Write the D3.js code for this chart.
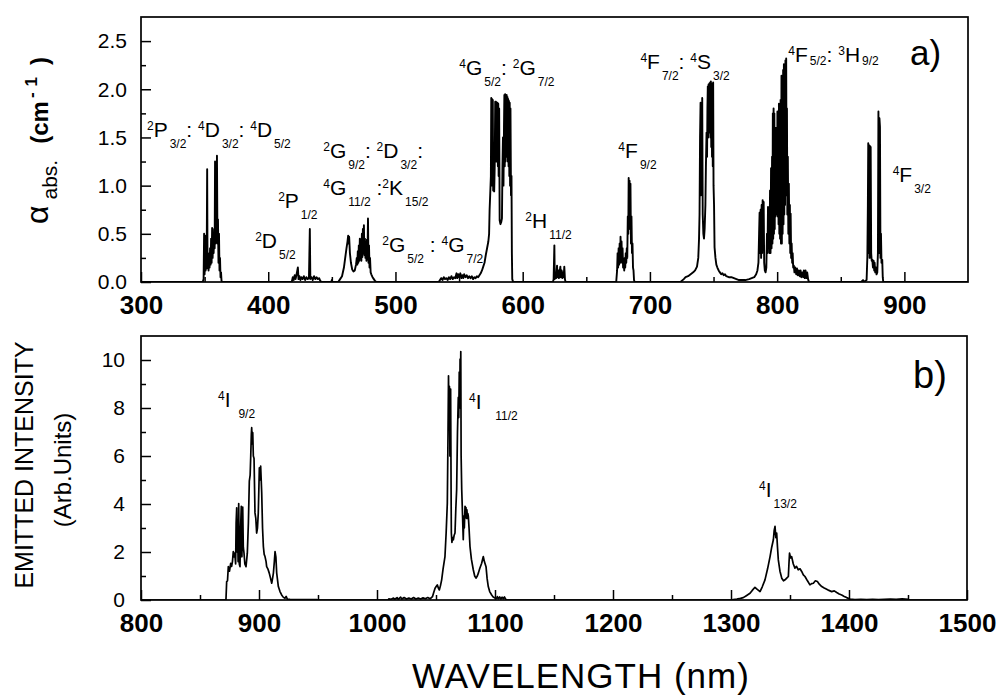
<!DOCTYPE html>
<html>
<head>
<meta charset="utf-8">
<script src="https://cdn.jsdelivr.net/npm/d3@7"></script>
<style>
  body { margin: 0; background: #fff; }
  text { font-family: "Liberation Sans", Arial, Helvetica, sans-serif; fill: #000; }
</style>
</head>
<body>
<svg id="chart" width="1000" height="697"></svg>
<script>
// Absorption spectrum: [wavelength (nm), absorption coefficient (cm-1)]
const absorption = [
  [300,0],[348.5,0],
  [349.2,0.03],[349.6,0.5],[350,0.08],[350.4,0.48],[350.8,0.12],[351.2,0.4],[351.6,0.14],[352,1.17],[352.3,0.16],
  [352.7,0.3],[353.1,0.12],[353.5,0.28],[353.9,0.15],[354.3,0.35],[354.7,0.18],[355.1,0.45],[355.5,0.2],[355.9,0.56],
  [356.3,0.25],[356.7,0.5],[357.1,0.3],[357.5,0.55],[357.9,0.35],[358.2,1.25],[358.6,0.4],[359,1.22],[359.3,0.45],
  [359.7,1.31],[360.1,0.4],[360.5,0.65],[360.9,0.2],[361.3,0.5],[361.7,0.12],[362.1,0.25],[362.5,0.05],[362.9,0.1],
  [363.3,0.01],[364,0],[418.5,0],
  [419.3,0.05],[420,0.02],[420.8,0.07],[421.5,0.03],[422.3,0.08],[423.3,0.15],[423.8,0.03],[424.5,0.06],[425.3,0.02],
  [426,0.05],[427,0.03],[428,0.06],[429,0.02],[430,0.05],[431,0.03],[432,0.04],[432.7,0.55],[433.1,0.03],[434,0.05],
  [435,0.02],[436,0.06],[437,0.03],[438,0.05],[439,0.03],[440,0.04],[441,0.01],[442,0],
  [449.5,0],[450,0.02],[450.5,0],[455,0],
  [456.5,0.03],[458,0.06],[459.5,0.15],[460.5,0.25],[461.5,0.35],[462.3,0.42],[462.8,0.48],[463.2,0.4],[463.6,0.47],
  [464.2,0.3],[465,0.2],[466,0.13],[467,0.11],[468,0.12],[469,0.18],[469.6,0.25],[470,0.18],[470.4,0.32],[470.8,0.2],
  [471.2,0.38],[471.6,0.22],[472,0.45],[472.4,0.25],[472.8,0.42],[473.2,0.22],[473.6,0.5],[474,0.26],[474.4,0.55],
  [474.8,0.3],[475.2,0.59],[475.6,0.28],[476,0.45],[476.4,0.25],[476.8,0.4],[477.2,0.22],[477.6,0.44],[478,0.24],
  [478.4,0.66],[478.8,0.2],[479.2,0.38],[479.6,0.15],[480,0.25],[480.5,0.1],[481,0.08],[482,0.05],[483,0.03],
  [484,0.01],[485,0],[534,0],
  [535,0.02],[536,0.04],[537,0.02],[538,0.05],[539,0.03],[540,0.04],[541,0.02],[542,0.05],[543,0.03],[544,0.06],
  [545,0.03],[546,0.05],[547,0.04],[548,0.09],[548.5,0.04],[549.3,0.08],[550,0.05],[551,0.09],[551.7,0.04],
  [552.5,0.07],[553.3,0.04],[554,0.08],[555,0.05],[556,0.07],[557,0.04],[558,0.06],[559,0.04],[560,0.06],[561,0.03],
  [562,0.05],[563,0.04],[564,0.06],[565,0.05],[566,0.07],[567,0.09],[568,0.12],
  [569,0.16],[570,0.2],[571,0.28],[572,0.35],[573,0.42],[573.6,0.5],[574,0.75],[574.5,0.92],[575,1.1],[575.3,1.91],
  [575.6,1.0],[575.9,1.9],[576.2,1.05],[576.5,1.89],[576.8,0.95],[577.2,0.96],[577.6,0.94],[578,1.2],[578.4,1.87],
  [578.7,1.3],[579,1.87],[579.3,1.25],[579.6,1.86],[579.9,1.3],[580.2,1.86],[580.5,1.2],[580.8,1.85],[581.1,1.1],
  [581.5,1.8],[581.9,0.64],[582.5,0.6],[583.1,0.62],[583.7,0.66],[584.1,1.2],[584.5,1.5],[584.9,1.0],[585.3,1.6],
  [585.6,1.94],[585.9,1.2],[586.2,1.95],[586.5,1.25],[586.8,1.93],[587.1,1.3],[587.4,1.94],[587.7,1.3],[588,1.92],
  [588.3,1.25],[588.6,1.9],[588.9,1.2],[589.2,1.88],[589.5,1.1],[589.8,1.86],[590.1,1.0],[590.4,1.8],[590.8,0.9],
  [591.2,1.1],[591.5,0.3],[591.8,0.03],[592.5,0],
  [623.8,0],[624.3,0.03],[624.9,0.38],[625.2,0.03],[625.7,0.08],[626.3,0.04],[627,0.17],[627.4,0.05],[628,0.12],
  [628.5,0.04],[629,0.1],[629.6,0.16],[630,0.05],[630.6,0.12],[631.2,0.04],[631.7,0.1],[632.2,0.05],[632.7,0.16],
  [633.2,0.03],[633.7,0],
  [673.5,0],[674.2,0.12],[674.6,0.3],[675,0.15],[675.4,0.35],[675.8,0.18],[676.2,0.4],[676.6,0.2],[676.9,0.47],
  [677.3,0.22],[677.7,0.42],[678.1,0.2],[678.5,0.35],[678.9,0.15],[679.4,0.23],[679.8,0.12],[680.2,0.25],[680.6,0.15],
  [681,0.3],[681.4,0.2],[681.8,0.35],[682.2,0.25],[682.6,0.68],[683,0.5],[683.3,1.08],[683.7,0.55],[684,1.05],
  [684.4,0.6],[684.7,1.02],[685.1,0.4],[685.5,0.68],[685.9,0.3],[686.3,0.4],[686.7,0.15],[687.1,0.12],[687.5,0.02],
  [688,0],[724,0],
  [726.6,0.03],[728,0.05],[730,0.06],[732,0.08],[734,0.1],[735.5,0.12],[737,0.16],[738,0.25],[738.6,0.45],[739,0.7],
  [739.4,1.5],[739.8,1.86],[740.1,0.9],[740.5,1.75],[740.8,1.1],[741.1,1.91],[741.5,0.7],[742,0.5],[742.5,0.45],
  [743,0.55],[743.6,0.8],[744,1.2],[744.5,1.55],[744.9,1.3],[745.2,1.8],[745.5,2.03],[745.8,1.5],[746.1,2.05],
  [746.4,1.6],[746.7,2.06],[747,1.55],[747.3,2.07],[747.6,1.5],[747.9,2.08],[748.2,1.4],[748.5,2.05],[748.8,1.3],
  [749.1,2.06],[749.4,1.2],[749.7,2.07],[750,1.0],[750.4,0.8],[750.8,0.36],[751.5,0.25],[752.2,0.18],[753,0.15],
  [754,0.12],[755,0.1],[756,0.08],[757,0.09],[758,0.07],[759,0.08],[760,0.06],[762,0.05],[764,0.05],[766,0.04],
  [768,0.03],[770,0.02],[772,0.02],[775,0.02],[778,0.03],[780,0.04],[782,0.05],
  [783.5,0.08],[784.5,0.12],[785.3,0.2],[785.8,0.5],[786.2,0.72],[786.6,0.3],[787,0.75],[787.4,0.25],[787.8,0.8],
  [788.2,0.3],[788.6,0.85],[789,0.4],[789.4,0.83],[789.8,0.2],[790.3,0.12],[790.9,0.1],[791.5,0.15],[792,0.5],
  [792.4,0.3],[792.8,0.78],[793.2,0.35],[793.6,0.7],[794,0.3],[794.4,0.95],[794.8,0.3],[795.2,1.18],[795.6,0.35],
  [796,1.3],[796.3,0.4],[796.6,1.75],[796.9,0.45],[797.2,1.8],[797.5,0.5],[797.8,1.75],[798.1,0.55],[798.4,1.6],
  [798.7,0.68],[799,1.51],[799.3,0.7],[799.6,1.6],[799.9,0.7],[800.2,1.77],[800.5,0.68],[800.8,1.7],[801.1,0.6],
  [801.4,1.85],[801.7,0.5],[802,1.8],[802.3,0.45],[802.7,1.89],[803,0.4],[803.4,2.14],[803.7,0.4],[804,2.03],
  [804.3,0.5],[804.7,2.2],[805,0.6],[805.3,2.26],[805.6,0.7],[805.9,2.25],[806.2,0.8],[806.5,2.3],[806.8,0.9],
  [807.1,2.32],[807.4,0.9],[807.7,1.8],[808,0.7],[808.4,1.3],[808.8,0.5],[809.2,1.02],[809.6,0.4],[810,0.8],
  [810.3,0.3],[810.6,0.71],[811,0.25],[811.4,0.4],[811.8,0.2],[812.2,0.3],[812.6,0.15],[813.1,0.17],[813.6,0.1],
  [814.2,0.15],[815,0.08],[815.6,0.14],[816.3,0.07],[817,0.12],[817.7,0.06],[818.4,0.12],[819,0.05],[819.7,0.1],
  [820.4,0.05],[821,0.12],[821.7,0.04],[822.3,0.12],[823,0.04],[823.6,0.1],[824.3,0.03],[825,0],
  [866,0],[867.5,0.02],[868,0],[870.3,0.02],[870.9,0.26],[871.3,0.8],[871.6,1.44],[871.9,0.3],[872.3,1.42],
  [872.7,0.25],[873.1,1.41],[873.5,1.4],[873.9,0.3],[874.3,0.22],[874.8,0.23],[875.3,0.15],[875.8,0.22],[876.3,0.12],
  [876.6,0.2],[877.1,0.1],[877.6,0.15],[878.1,0.08],[878.7,0.1],[879.2,0.3],[879.6,1.77],[880,0.3],[880.4,1.7],
  [880.8,1.61],[881.2,0.25],[881.6,0.5],[882,0.2],[882.6,0.23],[883,0.05],[883.4,0],[950,0]
];

// Emission spectrum: [wavelength (nm), intensity (arb. units)]
const emission = [
  [800,0],[872,0],[872.6,0.77],[873.3,0.8],[874,1.39],[875,1.2],[876,1.53],[876.8,1.4],[877.5,1.6],[878.2,2.02],
  [879,1.8],[879.5,1.95],[880.2,1.5],[880.6,3.2],[881.1,3.84],[881.5,2.0],[881.9,2.8],[882.3,1.6],[882.8,4.02],
  [883.3,1.5],[883.9,1.39],[884.4,3.0],[885,3.9],[885.5,1.8],[886.2,3.87],[886.7,2.2],[887.3,1.95],[888,1.5],
  [889,1.39],[890.1,1.95],[891,3.2],[891.8,4.95],[892.5,5.2],[893,6.0],[893.5,6.9],[893.8,7.18],[894.3,6.5],
  [894.7,6.97],[895.2,6.0],[895.8,5.9],[896.6,3.63],[897.3,3.4],[898,2.79],[898.7,3.0],[899.4,3.63],[900.3,5.51],
  [900.8,5.0],[901.4,5.58],[902.3,4.46],[903,3.0],[903.7,2.23],[904.4,1.9],[905.1,1.81],[906,1.6],[906.5,1.39],
  [907.5,1.3],[908.7,1.12],[909.8,0.9],[910.8,0.7],[911.5,0.9],[912.2,1.12],[913,1.6],[913.6,2.02],[914.3,1.8],
  [915,1.12],[916.4,0.56],[917.8,0.35],[919.2,0.21],[920.5,0.12],[922,0.07],[923,0.15],[924,0.04],[926.3,0.03],
  [930,0.02],[940,0.02],[949,0.02],[949.5,0],
  [1009.5,0],[1010,0.05],[1012,0.03],[1014,0.08],[1015,0.03],[1017,0.1],[1018,0.03],[1020,0.12],[1021,0.04],
  [1023,0.1],[1025,0.04],[1027,0.08],[1029,0.04],[1031,0.1],[1033,0.04],[1035,0.08],[1037,0.04],[1039,0.09],
  [1041,0.05],[1043,0.1],[1045,0.05],[1047,0.14],[1048,0.3],[1049.2,0.49],[1050,0.55],[1051.1,0.63],[1052,0.5],
  [1052.8,0.42],[1053.8,0.6],[1054.8,0.84],[1056,1.3],[1057.6,1.81],[1058.6,2.8],[1059.6,4.04],[1060.2,7.0],
  [1060.6,9.34],[1061,7.5],[1061.4,8.9],[1061.8,6.0],[1062.4,8.79],[1062.8,4.5],[1063,2.79],[1063.5,2.4],[1064,2.6],
  [1064.7,2.51],[1065.4,2.7],[1066.1,2.79],[1066.8,3.8],[1067.5,4.6],[1068.2,7.0],[1068.9,8.44],[1069.3,7.6],
  [1069.7,9.5],[1070.1,8.0],[1070.4,10.04],[1070.7,8.5],[1071,10.35],[1071.3,6.0],[1071.8,4.6],[1072.5,3.5],
  [1073.1,2.51],[1073.6,3.5],[1074,3.0],[1074.6,3.9],[1075,3.5],[1075.4,3.85],[1075.8,3.4],[1076.2,3.76],
  [1076.6,3.4],[1077,3.6],[1077.4,3.49],[1078,3.0],[1078.8,2.23],[1080,1.7],[1081.6,1.26],[1082.8,1.0],[1083.9,0.91],
  [1085,1.0],[1085.9,1.12],[1087,1.3],[1088.7,1.53],[1089.5,1.7],[1090.1,1.81],[1091,1.6],[1092.4,1.39],[1093.3,0.9],
  [1094.3,0.56],[1095.5,0.35],[1097.2,0.21],[1098.5,0.12],[1100,0.08],[1101.4,0.07],[1102,0.14],[1103,0.05],
  [1104,0.13],[1105,0.04],[1106,0.12],[1107,0.05],[1108,0.13],[1109,0.04],[1110,0],
  [1299.7,0],[1302,0.02],[1305,0.04],[1308,0.07],[1310.4,0.1],[1313,0.18],[1316.1,0.28],[1318,0.4],[1320.3,0.53],
  [1322,0.45],[1324.6,0.35],[1326.5,0.55],[1328.8,0.84],[1331,1.3],[1333.1,1.81],[1334.5,2.2],[1335.9,2.51],
  [1336.6,2.9],[1337.3,3.07],[1338,2.6],[1338.7,2.79],[1339.4,2.2],[1340.1,1.67],[1341.5,1.2],[1343,0.91],
  [1344.5,0.8],[1345.8,0.84],[1347,0.9],[1348.6,0.98],[1349.1,1.5],[1349.6,1.95],[1350.5,1.75],[1351.4,1.81],
  [1352.8,1.5],[1354.2,1.33],[1355.5,1.4],[1357,1.26],[1358.5,1.3],[1359.9,1.19],[1361.3,1.05],[1362.7,0.98],
  [1364.8,0.8],[1366.9,0.63],[1368.3,0.68],[1369.8,0.7],[1371.5,0.8],[1373.2,0.77],[1375,0.65],[1376.9,0.56],
  [1379,0.5],[1381.1,0.45],[1383,0.4],[1385.3,0.35],[1387.5,0.38],[1389.6,0.31],[1391.7,0.25],[1393.8,0.21],
  [1396,0.15],[1398,0.1],[1400.8,0.04],[1405,0.02],[1410,0.03],[1415,0.02],[1420,0.03],[1425,0.02],[1430,0.03],
  [1435,0.04],[1440,0.03],[1445,0.05],[1450.3,0.03],[1450.6,0],[1500,0]
];

// Axis ticks
const absXTicks = [300, 400, 500, 600, 700, 800, 900];
const absXMinor = [350, 450, 550, 650, 750, 850];
const absYTicks = [0, 0.5, 1.0, 1.5, 2.0, 2.5];
const absYMinor = [0.25, 0.75, 1.25, 1.75, 2.25];
const emXTicks = [800, 900, 1000, 1100, 1200, 1300, 1400, 1500];
const emXMinor = [850, 950, 1050, 1150, 1250, 1350, 1450];
const emYTicks = [0, 2, 4, 6, 8, 10];
const emYMinor = [1, 3, 5, 7, 9];

// Term labels: ^x superscript, _{..} subscript, ~{..} raised subscript
const absLevels = [
  { at: [304.7, 1.507], text: "^2P_{3/2}: ^4D_{3/2}: ^4D_{5/2}" },
  { at: [389.7, 0.351], text: "^2D_{5/2}" },
  { at: [407.8, 0.768], text: "^2P_{1/2}" },
  { at: [443.2, 1.289], text: "^2G_{9/2}: ^2D_{3/2}:" },
  { at: [443.2, 0.903], text: "^4G_{11/2} :^2K_{15/2}" },
  { at: [489.6, 0.309], text: "^2G_{5/2} : ^4G_{7/2}" },
  { at: [550.2, 2.153], text: "^4G_{5/2}: ^2G_{7/2}" },
  { at: [602.1, 0.559], text: "^2H_{11/2}" },
  { at: [675.2, 1.289], text: "^4F_{9/2}" },
  { at: [692.5, 2.215], text: "^4F_{7/2}: ^4S_{3/2}" },
  { at: [808.8, 2.288], text: "^4F~{5/2}: ^3H~{9/2}" },
  { at: [890.8, 1.039], text: "^4F_{3/2}" }
];
const emLevels = [
  { at: [865.3, 8.03], text: "^4I _{9/2}" },
  { at: [1078.0, 7.95], text: "^4I  _{11/2}" },
  { at: [1323.7, 4.31], text: "^4I_{13/2}" }
];

const svg = d3.select("#chart");

const panels = [
  { key: "a", data: absorption, xDomain: [300, 950], yDomain: [0, 2.75], left: 141, right: 968, top: 17, bottom: 282,
    xTicks: absXTicks, xMinor: absXMinor, yTicks: absYTicks, yMinor: absYMinor, yFormat: d3.format(".1f"),
    levels: absLevels, tag: "a)", tagPos: [910, 65], tagSize: 35, yPad: 14, stroke: 1.9 },
  { key: "b", data: emission, xDomain: [800, 1500], yDomain: [0, 11], left: 141, right: 967, top: 336, bottom: 600,
    xTicks: emXTicks, xMinor: emXMinor, yTicks: emYTicks, yMinor: emYMinor, yFormat: d3.format("d"),
    levels: emLevels, tag: "b)", tagPos: [913, 388], tagSize: 38, yPad: 16, stroke: 1.7 }
];

function drawLevel(g, spec, x, y) {
  const t = g.append("text")
    .attr("x", x(spec.at[0]))
    .attr("y", y(spec.at[1]))
    .style("white-space", "pre")
    .attr("font-size", 21);
  const re = /\^(.)|_\{([^}]*)\}|~\{([^}]*)\}|([^\^_~]+)/g;
  let shift = 0, m;
  while ((m = re.exec(spec.text))) {
    let str, dy, size, dx = 0;
    if (m[1]) { str = m[1]; dy = -7; size = 12; }
    else if (m[2]) { str = m[2]; dy = 11; size = 12; dx = 2; }
    else if (m[3]) { str = m[3]; dy = 3; size = 12; dx = 2; }
    else { str = m[4]; dy = 0; size = 21; }
    t.append("tspan").attr("dy", dy - shift).attr("dx", dx).attr("font-size", size).text(str);
    shift = dy;
  }
}

panels.forEach(p => {
  const x = d3.scaleLinear().domain(p.xDomain).range([p.left, p.right]);
  const y = d3.scaleLinear().domain(p.yDomain).range([p.bottom, p.top]);
  const g = svg.append("g");

  const clipId = "clip-" + p.key;
  svg.append("clipPath").attr("id", clipId)
    .append("rect").attr("x", p.left).attr("y", p.top)
    .attr("width", p.right - p.left).attr("height", p.bottom - p.top);

  // spectrum trace
  const line = d3.line().x(d => x(d[0])).y(d => y(d[1]));
  g.append("path")
    .datum(p.data)
    .attr("clip-path", `url(#${clipId})`)
    .attr("fill", "none")
    .attr("stroke", "#000")
    .attr("stroke-width", p.stroke)
    .attr("stroke-linejoin", "round")
    .attr("d", line);

  // major and minor ticks, pointing inward
  const xAx = g.append("g").attr("transform", `translate(0,${p.bottom})`)
    .call(d3.axisBottom(x).tickValues(p.xTicks).tickSize(-10).tickPadding(14).tickFormat(d3.format("d")));
  const xMin = g.append("g").attr("transform", `translate(0,${p.bottom})`)
    .call(d3.axisBottom(x).tickValues(p.xMinor).tickSize(-5).tickFormat(""));
  const yAx = g.append("g").attr("transform", `translate(${p.left},0)`)
    .call(d3.axisLeft(y).tickValues(p.yTicks).tickSize(-10).tickPadding(p.yPad).tickFormat(p.yFormat));
  const yMin = g.append("g").attr("transform", `translate(${p.left},0)`)
    .call(d3.axisLeft(y).tickValues(p.yMinor).tickSize(-5).tickFormat(""));

  [xAx, xMin, yAx, yMin].forEach(a => {
    a.select(".domain").remove();
    a.selectAll(".tick line").attr("stroke", "#000").attr("stroke-width", 1.5);
    a.attr("font-family", null).attr("font-size", null);
  });
  xAx.selectAll(".tick text").attr("font-size", 26).attr("font-weight", "bold").attr("fill", "#000");
  yAx.selectAll(".tick text").attr("font-size", 21).attr("fill", "#000");

  // frame
  g.append("rect")
    .attr("x", p.left).attr("y", p.top)
    .attr("width", p.right - p.left).attr("height", p.bottom - p.top)
    .attr("fill", "none").attr("stroke", "#000").attr("stroke-width", 1.7);

  // term labels
  p.levels.forEach(l => drawLevel(g, l, x, y));

  // panel tag
  g.append("text").attr("x", p.tagPos[0]).attr("y", p.tagPos[1])
    .attr("font-size", p.tagSize).text(p.tag);
});

// y-axis title, upper panel (reads bottom to top)
const ta = svg.append("text")
  .attr("transform", "translate(48,224) rotate(-90)")
  .attr("text-anchor", "start")
  .attr("font-size", 24)
  .attr("font-weight", "bold");
ta.append("tspan").attr("font-size", 32).attr("font-weight", "normal").text("α");
ta.append("tspan").attr("dx", 6).attr("dy", 9).attr("font-size", 21).attr("font-weight", "normal").text("abs.");
ta.append("tspan").attr("dx", 16).attr("dy", -9).text("(cm");
ta.append("tspan").attr("dx", 3).attr("dy", -11).attr("font-size", 17).text("-");
ta.append("tspan").attr("dx", 6).attr("font-size", 17).text("1");
ta.append("tspan").attr("dx", 12).attr("dy", 11).text(")");

// y-axis title, lower panel
svg.append("text")
  .attr("transform", "translate(33,465) rotate(-90)")
  .attr("text-anchor", "middle")
  .attr("font-size", 25)
  .text("EMITTED INTENSITY");
svg.append("text")
  .attr("transform", "translate(71,470) rotate(-90)")
  .attr("text-anchor", "middle")
  .attr("font-size", 24)
  .text("(Arb.Units)");

// x-axis title
svg.append("text")
  .attr("x", 581).attr("y", 688)
  .attr("text-anchor", "middle")
  .attr("font-size", 35)
  .attr("letter-spacing", 1)
  .text("WAVELENGTH (nm)");
</script>
</body>
</html>
